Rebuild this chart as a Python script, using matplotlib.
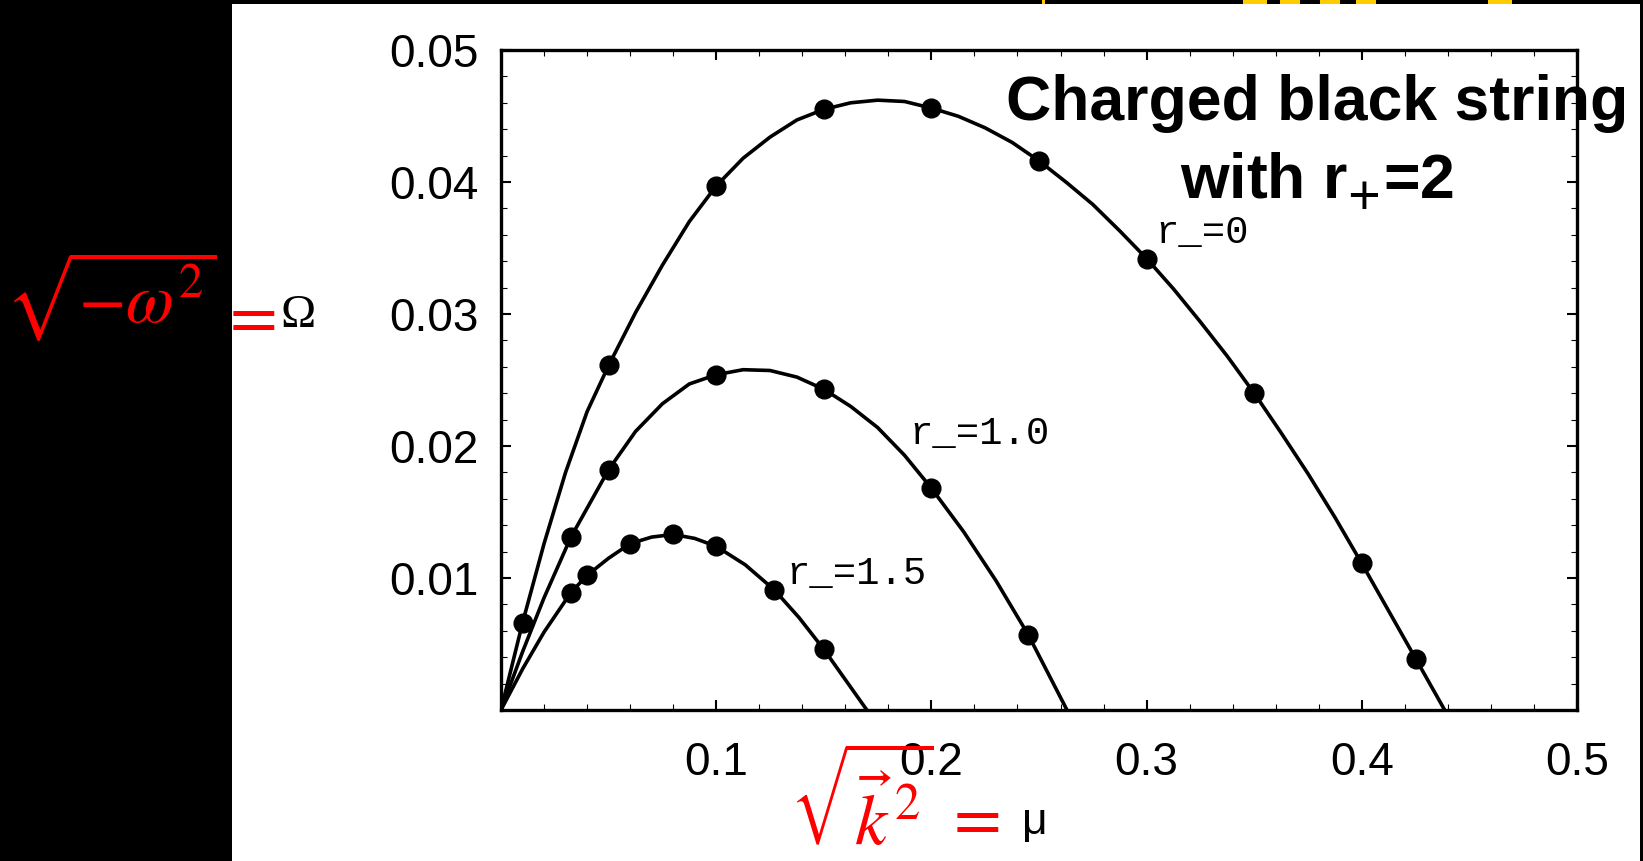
import matplotlib
matplotlib.use("Agg")
import matplotlib.pyplot as plt
from matplotlib.patches import Rectangle
from matplotlib.ticker import MultipleLocator, FixedLocator

plt.rcParams['mathtext.fontset'] = 'stix'

# ---- data ----
# r_ = 0 : markers and the drawn curve
mu_r0 = [0.01, 0.05, 0.10, 0.15, 0.20, 0.25, 0.30, 0.35, 0.40, 0.425]
om_r0 = [0.0066, 0.0261, 0.0397, 0.0455, 0.0456, 0.0416, 0.0342, 0.0240, 0.0111, 0.0039]
line_mu_r0 = [0, 0.01, 0.02, 0.03, 0.04, 0.05, 0.0625, 0.075, 0.0875, 0.10,
              0.1125, 0.125, 0.1375, 0.15, 0.1625, 0.175, 0.1875, 0.20,
              0.2125, 0.225, 0.2375, 0.25, 0.2625, 0.275, 0.2875, 0.30,
              0.3125, 0.325, 0.3375, 0.35, 0.3625, 0.375, 0.3875, 0.40,
              0.4125, 0.425, 0.4385]
line_om_r0 = [0, 0.0066, 0.0126, 0.0180, 0.0226, 0.0261, 0.0301, 0.0337, 0.0370, 0.0397,
              0.0418, 0.0434, 0.0447, 0.0455, 0.0460, 0.0462, 0.0461, 0.0456,
              0.04498, 0.0441, 0.0430, 0.0416, 0.0400, 0.0383, 0.0363, 0.0342,
              0.0319, 0.0294, 0.0268, 0.0240, 0.0210, 0.0179, 0.0146, 0.0111,
              0.0075, 0.0039, 0]

# r_ = 1.0
mu_r1 = [0.0325, 0.05, 0.10, 0.15, 0.20, 0.245]
om_r1 = [0.0131, 0.0182, 0.0254, 0.0243, 0.0168, 0.0057]
line_mu_r1 = [0, 0.01, 0.02, 0.0325, 0.05, 0.0625, 0.075, 0.0875, 0.10,
              0.1125, 0.125, 0.1375, 0.15, 0.1625, 0.175, 0.1875, 0.20,
              0.215, 0.23, 0.245, 0.263]
line_om_r1 = [0, 0.0044, 0.0085, 0.0131, 0.0182, 0.0211, 0.0232, 0.0247, 0.0254,
              0.02578, 0.02572, 0.02522, 0.0243, 0.0230, 0.0214, 0.0193, 0.0168,
              0.0135, 0.0098, 0.0057, 0]

# r_ = 1.5
mu_r15 = [0.0325, 0.04, 0.06, 0.08, 0.10, 0.127, 0.15]
om_r15 = [0.0089, 0.0102, 0.0126, 0.0133, 0.0124, 0.0091, 0.0046]
line_mu_r15 = [0, 0.01, 0.02, 0.0325, 0.04, 0.05, 0.06, 0.07, 0.08, 0.09, 0.10,
               0.1135, 0.127, 0.1385, 0.15, 0.16, 0.170]
line_om_r15 = [0, 0.0031, 0.0059, 0.0089, 0.0102, 0.0115, 0.0126, 0.0131, 0.0133, 0.0130, 0.0124,
               0.0110, 0.0091, 0.0070, 0.0046, 0.0023, 0]

x_ticks = [0.1, 0.2, 0.3, 0.4, 0.5]
y_ticks = [0.01, 0.02, 0.03, 0.04, 0.05]

W, H = 1643, 861
fig = plt.figure(figsize=(W / 100, H / 100), dpi=100)
fig.patch.set_facecolor('black')

# white slide area
fig.add_artist(Rectangle((232 / W, 0), (1640 - 232) / W, 857 / H,
                         transform=fig.transFigure, facecolor='white', edgecolor='none', zorder=0))
# bits of yellow peeking in at the top edge
for x0, w in [(1042, 3), (1243, 24), (1280, 20), (1320, 20), (1356, 20), (1488, 24)]:
    fig.add_artist(Rectangle((x0 / W, 857 / H), w / W, 4 / H,
                             transform=fig.transFigure, facecolor='#ffcc00', edgecolor='none', zorder=1))

ax = fig.add_axes([501 / W, 151 / H, 1076 / W, 660 / H])
ax.set_facecolor('white')

for mx, my, lx, ly in [(mu_r0, om_r0, line_mu_r0, line_om_r0),
                       (mu_r1, om_r1, line_mu_r1, line_om_r1),
                       (mu_r15, om_r15, line_mu_r15, line_om_r15)]:
    ax.plot(lx, ly, color='black', lw=2.6, solid_joinstyle='round', zorder=2)
    ax.plot(mx, my, 'o', color='black', ms=13.5, zorder=3)

ax.set_xlim(0, 0.5)
ax.set_ylim(0, 0.05)
ax.xaxis.set_major_locator(FixedLocator(x_ticks))
ax.yaxis.set_major_locator(FixedLocator(y_ticks))
ax.xaxis.set_minor_locator(MultipleLocator(0.02))
ax.yaxis.set_minor_locator(MultipleLocator(0.002))
ax.set_xticklabels([f'{v:g}' for v in x_ticks])
ax.set_yticklabels([f'{v:g}' for v in y_ticks])
ax.tick_params(which='both', direction='in', top=True, right=True, color='black')
ax.tick_params(which='major', length=7, width=1.5)
ax.tick_params(which='minor', length=4, width=0.8)
ax.tick_params(axis='x', labelsize=33, pad=22)
ax.tick_params(axis='y', labelsize=33, pad=16)
for lab in ax.get_xticklabels() + ax.get_yticklabels():
    lab.set_family('Liberation Sans')
for sp in ax.spines.values():
    sp.set_linewidth(2.4)

# curve labels
mono = dict(family='Liberation Mono', fontsize=28, color='black', va='center', ha='left')
ax.text(0.304, 0.0361, 'r_=0', **mono)
ax.text(0.1896, 0.0209, 'r_=1.0', **mono)
ax.text(0.1324, 0.0103, 'r_=1.5', **mono)

# title
fig.text(1317 / W, 1 - 143 / H, 'Charged black string\nwith r$_{\\mathbf{+}}$=2',
         family='Liberation Sans', fontweight='bold', fontsize=45, ha='center', va='center',
         linespacing=1.38)

# axis names in red / black
fig.text(5 / W, 1 - 296 / H, r'$\sqrt{-\omega^2}$', color='red', fontsize=50,
         ha='left', va='center')
fig.text(247 / W, 1 - 317 / H, r'$=$', color='red', fontsize=50, ha='center', va='center')
fig.text(298 / W, 1 - 316 / H, 'Ω', color='black', fontsize=34, family='Liberation Serif',
         ha='center', va='center')

fig.text(790 / W, 1 - 806 / H, r'$\sqrt{\vec{k}^{\,2}}$', color='red', fontsize=52,
         ha='left', va='center')
fig.text(971 / W, 1 - 819 / H, r'$=$', color='red', fontsize=50, ha='center', va='center')
fig.text(1035 / W, 1 - 822 / H, 'μ', color='black', fontsize=32, family='Liberation Sans',
         ha='center', va='center')

fig.savefig('out.png', dpi=100, facecolor=fig.get_facecolor())
